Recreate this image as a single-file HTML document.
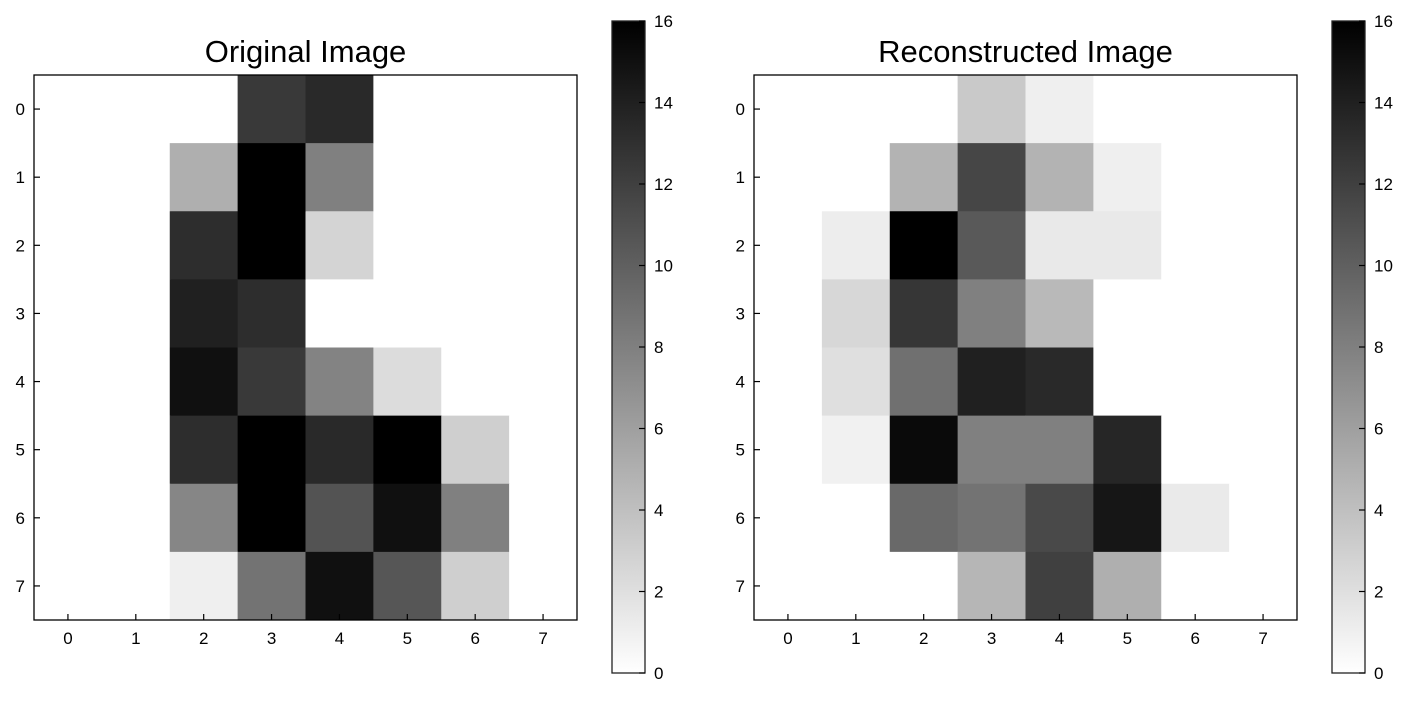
<!DOCTYPE html>
<html><head><meta charset="utf-8"><style>
body{margin:0;background:#fff;}
svg text{font-family:"Liberation Sans",Arial,sans-serif;fill:#000;}
</style></head><body>
<svg id="fig" width="1409" height="699" viewBox="0 0 1409 699" xmlns="http://www.w3.org/2000/svg">
<defs><linearGradient id="cbg" x1="0" y1="1" x2="0" y2="0"><stop offset="0" stop-color="#fff"/><stop offset="1" stop-color="#000"/></linearGradient></defs>
</svg>
<script>
const originalValues=[
[0,0,0,12.4,13.4,0,0,0],
[0,0,5,16,8,0,0,0],
[0,0,13.2,16,2.7,0,0,0],
[0,0,14,13.2,0,0,0,0],
[0,0,15,12.4,7.8,2.2,0,0],
[0,0,13.2,16,13.4,16,3,0],
[0,0,7.6,16,10.8,15,8,0],
[0,0,1,8.8,15,10.6,3,0]];
const reconValues=[
[0,0,0,3.4,1,0,0,0],
[0,0,4.8,11.6,4.8,1,0,0],
[0,1.1,16,10.4,1.4,1.4,0,0],
[0,2.5,12.6,8,4.4,0,0,0],
[0,2,9,14,13.4,0,0,0],
[0,0.9,15.4,8,8,13.6,0,0],
[0,0,9.4,8.8,11.4,14.6,1.3,0],
[0,0,0,4.6,12,5,0,0]];
const axisTicks=[0,1,2,3,4,5,6,7];
const cbTicks=[0,2,4,6,8,10,12,14,16];
const vmin=0,vmax=16;
const NS="http://www.w3.org/2000/svg";
const svg=document.getElementById('fig');
function mk(t,a,p){const e=document.createElementNS(NS,t);for(const k in a)e.setAttribute(k,a[k]);(p||svg).appendChild(e);return e;}
function gray(v){const g=Math.round(255*(1-(v-vmin)/(vmax-vmin)));return `rgb(${g},${g},${g})`;}
function panel(x0,title,vals,name){
  const y0=75,w=543,h=545,cw=w/8,ch=h/8;
  const g=mk('g',{});
  
  
  const sx=c=>x0+c*cw, sy=r=>y0+r*ch;
  vals.forEach((row,r)=>row.forEach((v,c)=>{
    const e=mk('rect',{x:sx(c),y:sy(r),width:cw+0.5,height:ch+0.5,fill:gray(v)},g);
    
    
  }));
  const fr=mk('rect',{x:x0,y:y0,width:w,height:h,fill:'none',stroke:'#000','stroke-width':1.3},g);
  
  
  axisTicks.forEach(t=>{
    const cx=sx(t+0.5), cy=sy(t+0.5);
    mk('line',{x1:cx,y1:y0+h,x2:cx,y2:y0+h-6,stroke:'#000','stroke-width':1.2},g);
    mk('line',{x1:x0,y1:cy,x2:x0+6,y2:cy,stroke:'#000','stroke-width':1.2},g);
    const xl=mk('text',{x:cx,y:y0+h+24,'font-size':17,'text-anchor':'middle'},g);xl.textContent=t;
    
    
    const yl=mk('text',{x:x0-9,y:cy+6,'font-size':17,'text-anchor':'end'},g);yl.textContent=t;
    
    
  });
  const tt=mk('text',{x:x0+w/2,y:62,'font-size':31,'text-anchor':'middle'},g);tt.textContent=title;
  
  
  const cx0=x0+578,cy0=21,cw2=33,chh=652;
  const cb=mk('g',{},svg);
  
  
  mk('rect',{x:cx0,y:cy0,width:cw2,height:chh,fill:'url(#cbg)',stroke:'#222','stroke-width':1.3},cb);
  cbTicks.forEach(t=>{
    const y=cy0+chh*(1-(t-vmin)/(vmax-vmin));
    mk('line',{x1:cx0+cw2,y1:y,x2:cx0+cw2-6,y2:y,stroke:'#000','stroke-width':1.2},cb);
    const l=mk('text',{x:cx0+cw2+9,y:y+6,'font-size':17},cb);l.textContent=t;
    
    
  });
}
panel(34,'Original Image',originalValues,'original');
panel(754,'Reconstructed Image',reconValues,'reconstructed');
</script>
</body></html>
